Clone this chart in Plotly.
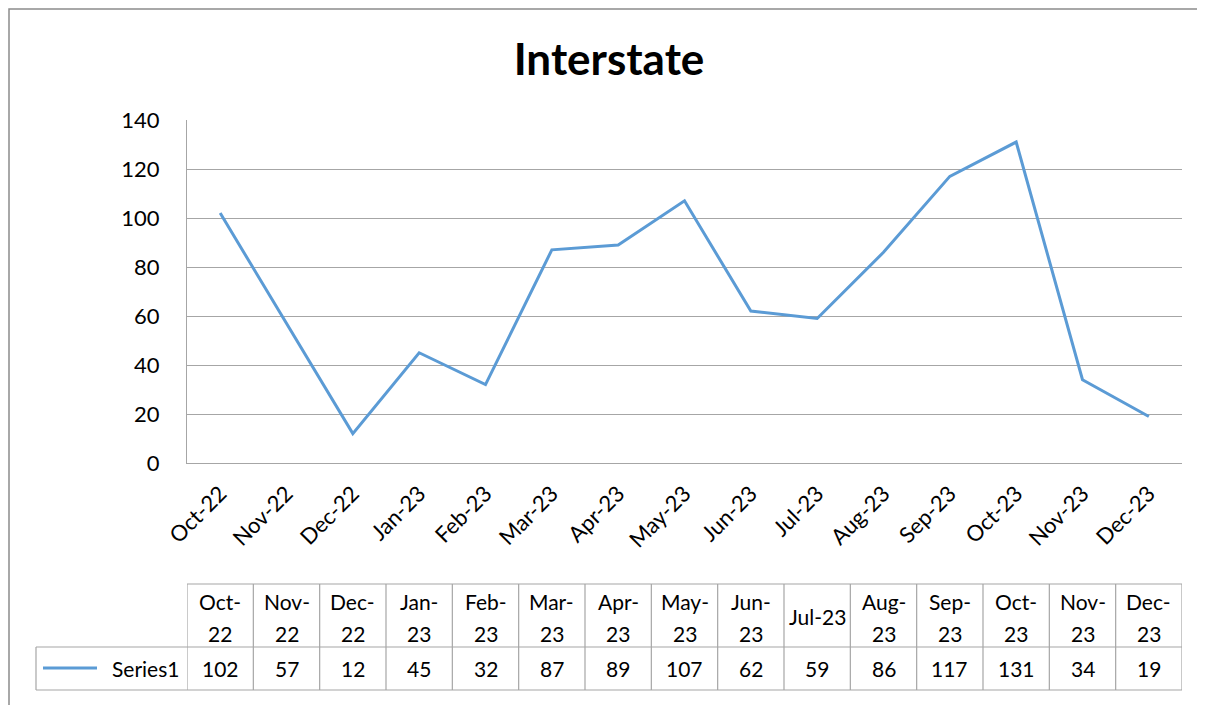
import plotly.graph_objects as go

categories = ["Oct-22", "Nov-22", "Dec-22", "Jan-23", "Feb-23", "Mar-23", "Apr-23", "May-23",
              "Jun-23", "Jul-23", "Aug-23", "Sep-23", "Oct-23", "Nov-23", "Dec-23"]
values = [102, 57, 12, 45, 32, 87, 89, 107, 62, 59, 86, 117, 131, 34, 19]
table_headers = ["Oct-<br>22", "Nov-<br>22", "Dec-<br>22", "Jan-<br>23", "Feb-<br>23", "Mar-<br>23",
                 "Apr-<br>23", "May-<br>23", "Jun-<br>23", "Jul-23", "Aug-<br>23", "Sep-<br>23",
                 "Oct-<br>23", "Nov-<br>23", "Dec-<br>23"]
series_name = "Series1"
title_text = "Interstate"
y_ticks = [0, 20, 40, 60, 80, 100, 120, 140]

# page body has an 8px margin, so the figure is 16px smaller than the window
OFF = 8
W, H = 1205 - 2 * OFF, 713 - 2 * OFF
FONT = "Lato, Carlito, Calibri, sans-serif"
LINE_COLOR = "#5B9BD5"
GRID = "#A6A6A6"
TXT = "#000000"

def px(x):
    return (x - OFF) / W

def py(y):
    return 1 - (y - OFF) / H

fig = go.Figure()
fig.add_trace(go.Scatter(x=categories, y=values, mode="lines", name=series_name,
                         line=dict(color=LINE_COLOR, width=3), showlegend=False))

n = len(categories)
shapes = []
annotations = []

# outer chart frame
shapes.append(dict(type="rect", xref="paper", yref="paper", x0=px(9), x1=1.05, y0=-0.05, y1=py(9),
                   line=dict(color="#8C8C8C", width=1.5), layer="below"))

# table lines (column boundaries through the category axis scale)
t_top, t_mid, t_bot = py(584), py(647), py(690)
for k in range(n + 1):
    shapes.append(dict(type="line", xref="x", yref="paper", x0=k - 0.5, x1=k - 0.5,
                       y0=t_bot, y1=t_top, line=dict(color=GRID, width=1.2)))
shapes.append(dict(type="line", xref="x", yref="paper", x0=-0.5, x1=n - 0.5, y0=t_top, y1=t_top,
                   line=dict(color=GRID, width=1.2)))
for yy in (t_mid, t_bot):
    shapes.append(dict(type="line", xref="paper", yref="paper", x0=px(36), x1=px(187), y0=yy, y1=yy,
                       line=dict(color=GRID, width=1.2)))
    shapes.append(dict(type="line", xref="x", yref="paper", x0=-0.5, x1=n - 0.5, y0=yy, y1=yy,
                       line=dict(color=GRID, width=1.2)))
shapes.append(dict(type="line", xref="paper", yref="paper", x0=px(36), x1=px(36), y0=t_bot, y1=t_mid,
                   line=dict(color=GRID, width=1.2)))
# legend key
shapes.append(dict(type="line", xref="paper", yref="paper", x0=px(43), x1=px(97), y0=py(668), y1=py(668),
                   line=dict(color=LINE_COLOR, width=3)))

fs_axis = 22
fs_tab = 21
annotations.append(dict(text=series_name, xref="paper", yref="paper", x=px(181), y=py(668),
                        xanchor="right", yanchor="middle", showarrow=False,
                        font=dict(family=FONT, size=fs_tab, color=TXT)))
for i, (c, h, v) in enumerate(zip(categories, table_headers, values)):
    parts = h.split("<br>")
    if len(parts) == 1:
        annotations.append(dict(text=parts[0], xref="x", yref="paper", x=c, y=py(616),
                                xanchor="center", yanchor="middle", showarrow=False,
                                font=dict(family=FONT, size=fs_tab, color=TXT)))
    else:
        for j, p in enumerate(parts):
            annotations.append(dict(text=p, xref="x", yref="paper", x=c, y=py(601 + 32 * j),
                                    xanchor="center", yanchor="middle", showarrow=False,
                                    font=dict(family=FONT, size=fs_tab, color=TXT)))
    annotations.append(dict(text=str(v), xref="x", yref="paper", x=c, y=py(668),
                            xanchor="center", yanchor="middle", showarrow=False,
                            font=dict(family=FONT, size=fs_tab, color=TXT)))

fig.update_layout(
    template="none",
    width=W, height=H,
    margin=dict(l=0, r=0, t=0, b=0, pad=0, autoexpand=False),
    paper_bgcolor="white", plot_bgcolor="white",
    title=dict(text="<b>" + title_text + "</b>", x=px(609), xanchor="center", y=py(60), yanchor="middle",
               font=dict(family=FONT, size=44, color=TXT)),
    xaxis=dict(domain=[px(187), px(1182)], type="category", categoryorder="array",
               categoryarray=categories, range=[-0.5, n - 0.5], tickangle=-45, automargin=False,
               showgrid=False, showline=True, linecolor=GRID, linewidth=1.2, ticks="",
               ticklabelstandoff=8, tickfont=dict(family=FONT, size=fs_axis, color=TXT)),
    yaxis=dict(domain=[py(463), py(120)], range=[0, 140], tickvals=y_ticks, automargin=False,
               showgrid=True, gridcolor=GRID, gridwidth=1.2, zeroline=False,
               showline=True, linecolor=GRID, linewidth=1.2, ticks="",
               ticklabelstandoff=22, tickfont=dict(family=FONT, size=fs_axis, color=TXT)),
    shapes=shapes, annotations=annotations,
)

fig.write_html("out.html")
